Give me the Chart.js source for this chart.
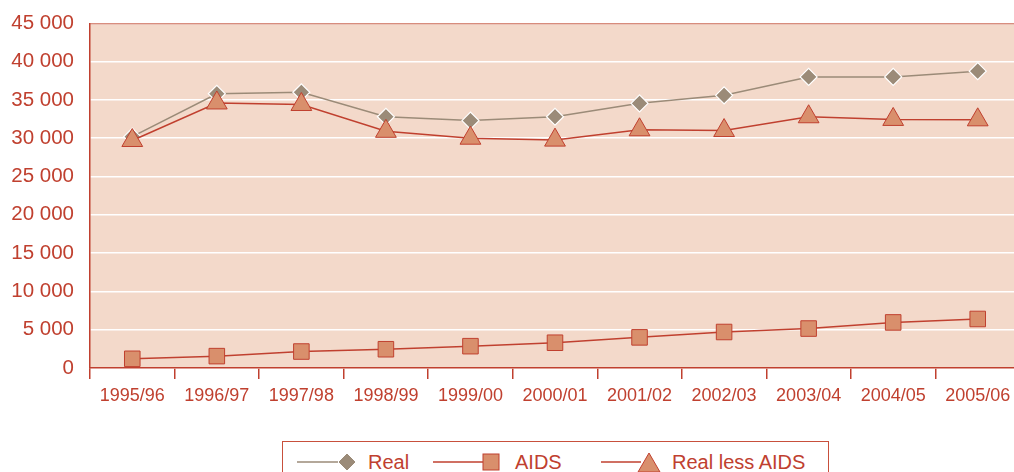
<!DOCTYPE html>
<html>
<head>
<meta charset="utf-8">
<script src="https://cdn.jsdelivr.net/npm/chart.js@4.4.1/dist/chart.umd.min.js"></script>
<style>
  html, body { margin: 0; padding: 0; background: #fff; overflow: hidden; }
  #wrap { position: relative; width: 1014px; height: 472px; overflow: hidden; }
  #chart { position: absolute; left: 0; top: -5px; }
  #legend {
    position: absolute; left: 282px; top: 441px; width: 547px; height: 40px;
    border: 1px solid #c8503c; box-sizing: border-box;
    font-family: "Liberation Sans", Arial, sans-serif; font-size: 20px; color: #c0402f;
  }
  #legend .item { position: absolute; top: 8px; height: 24px; line-height: 24px; }
  #legend svg { position: absolute; top: 0; }
  #legend span { position: absolute; top: 0; white-space: nowrap; }
</style>
</head>
<body>
<div id="wrap">
  <canvas id="chart" width="1033" height="415"></canvas>
  <div id="legend">
    <div class="item" style="left:14px">
      <svg width="80" height="24"><line x1="0" y1="12" x2="44" y2="12" stroke="#9b8b78" stroke-width="1.5"/><polygon points="41,12 50,3 59,12 50,21" fill="#9b8b78" stroke="#fff" stroke-width="1"/></svg>
      <span style="left:71px">Real</span>
    </div>
    <div class="item" style="left:150px">
      <svg width="80" height="24"><line x1="0" y1="12" x2="50" y2="12" stroke="#c0402f" stroke-width="1.5"/><rect x="50" y="4" width="16" height="16" fill="#d98f6c" stroke="#c0402f" stroke-width="1"/></svg>
      <span style="left:82px">AIDS</span>
    </div>
    <div class="item" style="left:318px">
      <svg width="80" height="26"><line x1="0" y1="12" x2="40" y2="12" stroke="#c0402f" stroke-width="1.5"/><polygon points="37,22 48,3 59,22" fill="#d98f6c" stroke="#c0402f" stroke-width="1"/></svg>
      <span style="left:71px">Real less AIDS</span>
    </div>
  </div>
</div>
<script>
// data
const years = ["1995/96", "1996/97", "1997/98", "1998/99", "1999/00", "2000/01", "2001/02", "2002/03", "2003/04", "2004/05", "2005/06"];
const realValues = [30200, 35800, 36000, 32800, 32300, 32800, 34550, 35600, 38000, 38000, 38750];
const aidsValues = [1200, 1550, 2150, 2450, 2850, 3300, 4000, 4700, 5150, 5950, 6400];
const realLessAidsValues = [29700, 34600, 34400, 30900, 30000, 29750, 31100, 31000, 32800, 32450, 32400];
const yTicks = [0, 5000, 10000, 15000, 20000, 25000, 30000, 35000, 40000, 45000];

const RED = '#c0402f';
const GREY = '#9b8b78';
const MARKER = '#d98f6c';

function fmt(v) {
    return String(v).replace(/\B(?=(\d{3})+(?!\d))/g, ' ');
}

// fondo del area del grafico y borde superior
const plotBg = {
    id: 'plotBg',
    beforeDraw: (chart) => {
        const { ctx, chartArea: a } = chart;
        ctx.save();
        ctx.fillStyle = '#f3d9ca';
        ctx.fillRect(a.left, a.top, a.right - a.left, a.bottom - a.top);
        ctx.restore();
    },
    afterDatasetsDraw: (chart) => {
        const { ctx, chartArea: a } = chart;
        ctx.save();
        ctx.strokeStyle = '#c8604a';
        ctx.lineWidth = 1;
        ctx.beginPath();
        ctx.moveTo(a.left, a.top + 0.5);
        ctx.lineTo(a.right, a.top + 0.5);
        ctx.stroke();
        ctx.restore();
    }
};

new Chart(document.getElementById('chart').getContext('2d'), {
    type: 'line',
    data: {
        labels: years,
        datasets: [
            {
                label: 'Real', data: realValues, order: 2,
                borderColor: GREY, borderWidth: 1.5,
                pointStyle: 'rectRot', pointRadius: 8.5,
                pointBackgroundColor: GREY, pointBorderColor: '#fff', pointBorderWidth: 1.2
            },
            {
                label: 'AIDS', data: aidsValues, order: 1,
                borderColor: RED, borderWidth: 1.5,
                pointStyle: 'rect', pointRadius: 11,
                pointBackgroundColor: MARKER, pointBorderColor: RED, pointBorderWidth: 1
            },
            {
                label: 'Real less AIDS', data: realLessAidsValues, order: 0,
                borderColor: RED, borderWidth: 1.5,
                pointStyle: 'triangle', pointRadius: 12,
                pointBackgroundColor: MARKER, pointBorderColor: RED, pointBorderWidth: 1
            }
        ]
    },
    options: {
        responsive: false,
        animation: false,
        layout: { padding: { top: 18, right: 0, bottom: 0, left: 0 } },
        plugins: { legend: { display: false }, tooltip: { enabled: false } },
        scales: {
            x: {
                offset: true,
                grid: { offset: true, drawOnChartArea: false, drawTicks: true, tickLength: 11, color: RED, lineWidth: 1.5 },
                border: { display: true, color: RED, width: 1.5 },
                ticks: { color: RED, padding: 6, font: { family: 'Liberation Sans', size: 18 }, maxRotation: 0, autoSkip: false },
                afterFit: (s) => { s.height = 42; }
            },
            y: {
                min: 0, max: 45000,
                afterBuildTicks: (s) => { s.ticks = yTicks.map(v => ({ value: v })); },
                grid: { color: '#ffffff', lineWidth: 1.5, drawTicks: false },
                border: { display: true, color: RED, width: 1.5 },
                ticks: { color: RED, padding: 16, font: { family: 'Liberation Sans', size: 20.5 }, callback: (v) => fmt(v) },
                afterFit: (s) => { s.width = 90; }
            }
        }
    },
    plugins: [plotBg]
});
</script>
</body>
</html>
